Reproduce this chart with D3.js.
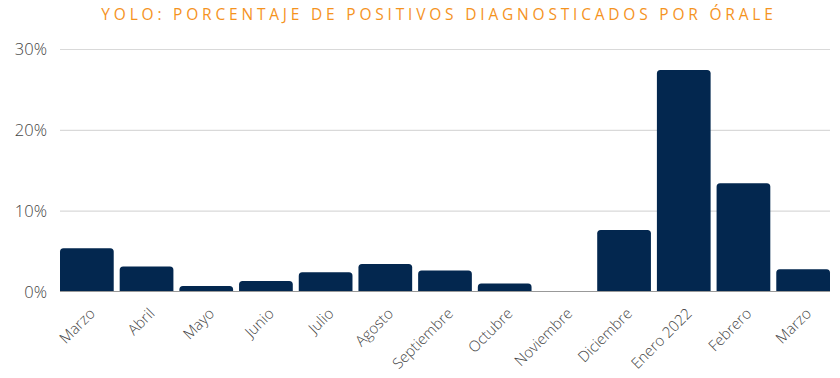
<!DOCTYPE html>
<html><head><meta charset="utf-8">
<script src="https://cdn.jsdelivr.net/npm/d3@7"></script>
<style>body{margin:0;background:#fff}svg{display:block}</style>
</head><body>
<svg id="c" width="840" height="378"></svg>
<script>
const title = "YOLO: PORCENTAJE DE POSITIVOS DIAGNOSTICADOS POR ÓRALE";
const categories = ["Marzo","Abril","Mayo","Junio","Julio","Agosto","Septiembre","Octubre","Noviembre","Diciembre","Enero 2022","Febrero","Marzo "];
const values = [5.35, 3.1, 0.68, 1.3, 2.38, 3.4, 2.6, 1.0, 0, 7.6, 27.4, 13.4, 2.76];
const yTicks = [0, 10, 20, 30];

(function () {
const svg = d3.select("#c");
const mL = 60, mR = 830, mT = 49, mB = 291.5;
const x = d3.scaleBand().domain(categories).range([mL, mR]).paddingInner(0.1).paddingOuter(0);
const y = d3.scaleLinear().domain([0, 30]).range([mB, mT]);

svg.append("text").attr("x", 439).attr("y", 20).attr("text-anchor", "middle")
  .attr("fill", "#F5931E").style("font-family", "'Open Sans', sans-serif").style("font-size", "15.5px")
  .style("letter-spacing", "3.8px").text(title);

const ya = svg.append("g").attr("transform", `translate(${mL},0)`)
  .call(d3.axisLeft(y).tickValues(yTicks).tickFormat(d => d + "%").tickSize(-(mR - mL)).tickPadding(13));
ya.select(".domain").remove();
ya.selectAll(".tick line").attr("stroke", d => d === 0 ? "none" : "#d9d9d9").attr("stroke-width", 1.2);
ya.selectAll(".tick text").attr("fill", "#444").attr("dy", "0.34em")
  .style("font-family", "'Open Sans', sans-serif")
  .style("font-size", "16.5px").style("font-weight", 300);

function barPath(x0, y0, w, h, r) {
  if (h <= 0) return "";
  r = Math.min(r, h, w / 2);
  return `M${x0},${y0 + h}V${y0 + r}Q${x0},${y0} ${x0 + r},${y0}H${x0 + w - r}Q${x0 + w},${y0} ${x0 + w},${y0 + r}V${y0 + h}Z`;
}
svg.append("g").selectAll("path").data(values).join("path")
  .attr("d", (d, i) => barPath(x(categories[i]), y(d), x.bandwidth(), y(0) - y(d), 3.5))
  .attr("fill", "#03274F");

svg.append("line").attr("x1", mL).attr("x2", mR).attr("y1", y(0)).attr("y2", y(0))
  .attr("stroke", "#999").attr("stroke-width", 1);

const xa = svg.append("g").attr("transform", `translate(0,${mB})`)
  .call(d3.axisBottom(x).tickSize(0).tickPadding(0));
xa.select(".domain").remove();
xa.selectAll(".tick text")
  .attr("text-anchor", "end")
  .attr("y", 0).attr("dy", 0)
  .attr("transform", "translate(9,23) rotate(-45)")
  .attr("fill", "#444").style("font-family", "'Open Sans', sans-serif")
  .style("font-size", "15px").style("font-weight", 300);
})();
</script>
</body></html>
